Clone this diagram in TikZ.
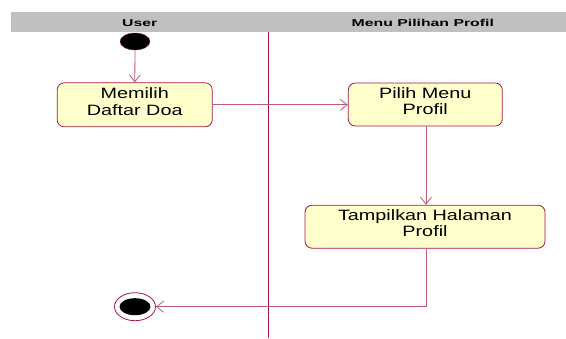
\documentclass[tikz,border=0pt]{standalone}
\usepackage{fontspec}
\setmainfont{Liberation Sans}
\newfontfamily\boxfont[FakeStretch=1.32]{Liberation Sans}
\newfontfamily\headfont[FakeStretch=1.58]{Liberation Sans}
\usetikzlibrary{arrows.meta,shapes.geometric}
\definecolor{lanered}{HTML}{A8164A}
\definecolor{flowred}{HTML}{C0587A}
\definecolor{boxfill}{HTML}{FFFFCC}
\definecolor{headgray}{HTML}{C0C0C0}
\begin{document}
\begin{tikzpicture}[x=1pt,y=-1pt,
  act/.style={draw=lanered, line width=0.8pt, fill=boxfill, rounded corners=7pt, align=center,
    font=\boxfont\fontsize{15}{16.7}\selectfont, inner sep=0pt, text depth=7pt},
  flow/.style={draw=flowred, line width=0.8pt, -{Straight Barb[length=7pt,width=11pt]}},
  head/.style={font=\headfont\bfseries\fontsize{10}{11}\selectfont}]
\useasboundingbox (0,0) rectangle (566,338);
\fill[headgray] (11,12) rectangle (566,32);
\node[head] (h1) at (139.7,23) {User};
\node[head] (h2) at (422.8,23) {Menu Pilihan Profil};
\draw[lanered, line width=1pt] (268.3,32) -- (268.3,338);
\node[draw=lanered, fill=black, ellipse, minimum width=30pt, minimum height=17pt, inner sep=0pt] (start) at (135,41.5) {};
\node[act, minimum width=155pt, minimum height=44pt] (a1) at (134.7,104.8) {Memilih\\Daftar Doa};
\node[act, minimum width=154pt, minimum height=43pt] (a2) at (425.3,104.5) {Pilih Menu\\Profil};
\node[act, minimum width=240pt, minimum height=43pt] (a3) at (425,226.7) {Tampilkan Halaman\\Profil};
\node[draw=lanered, ellipse, minimum width=41pt, minimum height=28pt, inner sep=0pt, line width=0.8pt] (end) at (135,306.7) {};
\fill[black] (end.center) ellipse (15.5pt and 8.5pt);
\draw[flow] (start) -- (a1);
\draw[flow] (a1.east |- 0,104.8) -- (a2.west |- 0,104.8);
\draw[flow] (a2.south -| 426,0) -- (a3.north -| 426,0);
\coordinate (c1) at (426,306.7);
\draw[flow] (a3.south -| 426,0) -- (c1) -- (end);
\end{tikzpicture}
\end{document}
